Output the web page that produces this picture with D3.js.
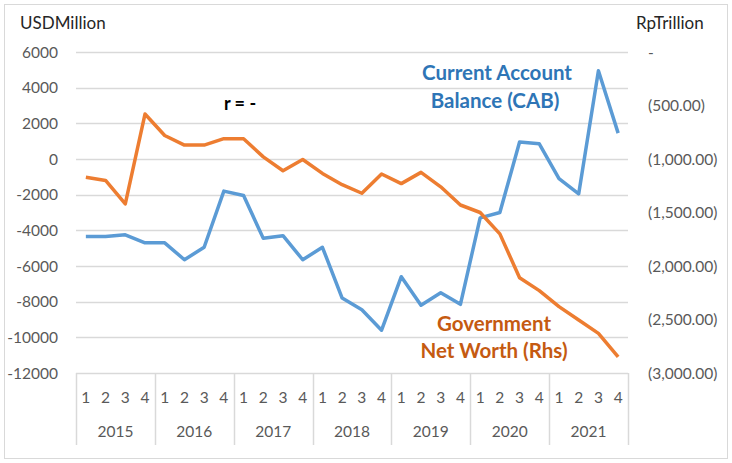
<!DOCTYPE html>
<html>
<head>
<meta charset="utf-8">
<script src="https://cdn.jsdelivr.net/npm/d3@7"></script>
<style>
  body { margin: 0; background: #fff; }
  svg { font-family: Lato, "Open Sans", sans-serif; }
</style>
</head>
<body>
<div id="chart"></div>
<script>
// Data
var years = ["2015", "2016", "2017", "2018", "2019", "2020", "2021"];
var quarters = ["1", "2", "3", "4"];
var cab = [-4350, -4350, -4250, -4700, -4700, -5650, -4950, -1800, -2050, -4450, -4300, -5650,
           -4950, -7800, -8450, -9600, -6600, -8200, -7500, -8150, -3300, -3000, 950, 850,
           -1100, -1950, 4950, 1450];
var netWorth = [-1170, -1200, -1420, -580, -780, -870, -870, -810, -810, -980, -1110, -1005,
                -1135, -1240, -1320, -1140, -1230, -1125, -1260, -1430, -1500, -1700, -2110, -2230,
                -2380, -2505, -2630, -2850];
var leftTicks = [6000, 4000, 2000, 0, -2000, -4000, -6000, -8000, -10000, -12000];
var rightTicks = [0, -500, -1000, -1500, -2000, -2500, -3000];

var W = 732, H = 463;
var plotL = 76, plotR = 628, plotT = 52, plotB = 373;

var svg = d3.select("#chart").append("svg")
    .attr("width", W)
    .attr("height", H);

// outer border
svg.append("rect")
    .attr("x", 4.5).attr("y", 4.5)
    .attr("width", 723).attr("height", 454)
    .attr("fill", "#fff")
    .attr("stroke", "#d9d9d9");

var cats = [];
years.forEach(function(y) {
  quarters.forEach(function(q) { cats.push(y + "-" + q); });
});

var x = d3.scaleBand().domain(cats).range([plotL, plotR]);
var yL = d3.scaleLinear().domain([-12000, 6000]).range([plotB, plotT]);
var yR = d3.scaleLinear().domain([-3000, 0]).range([plotB, plotT]);

// gridlines
svg.append("g")
  .selectAll("line")
  .data(leftTicks)
  .enter()
    .append("line")
    .attr("x1", plotL).attr("x2", plotR)
    .attr("y1", function(d) { return Math.round(yL(d)) + 0.5; })
    .attr("y2", function(d) { return Math.round(yL(d)) + 0.5; })
    .attr("stroke", "#d9d9d9")
    .attr("stroke-width", 1.5);

// left axis labels
svg.append("g")
  .selectAll("text")
  .data(leftTicks)
  .enter()
    .append("text")
    .attr("x", 58)
    .attr("y", function(d) { return yL(d) + 5.5; })
    .attr("text-anchor", "end")
    .attr("font-size", 15.5)
    .attr("fill", "#595959")
    .text(function(d) { return d; });

// right axis labels
var fmt = d3.format(",.2f");
svg.append("g")
  .selectAll("text")
  .data(rightTicks)
  .enter()
    .append("text")
    .attr("x", 648)
    .attr("y", function(d) { return yR(d) + 5.5; })
    .attr("font-size", 15.5)
    .attr("fill", "#595959")
    .text(function(d) { return d === 0 ? " -" : "(" + fmt(-d) + ")"; });

// axis titles
svg.append("text").attr("x", 20).attr("y", 29)
    .attr("font-size", 17).attr("fill", "#262626")
    .text("USDMillion");
svg.append("text").attr("x", 636).attr("y", 29)
    .attr("font-size", 17).attr("fill", "#262626")
    .text("RpTrillion");

// category axis: year separators
var seps = years.map(function(y) { return x(y + "-1"); }).concat([plotR]);
svg.append("g")
  .selectAll("line")
  .data(seps)
  .enter()
    .append("line")
    .attr("x1", function(d) { return Math.round(d) + 0.5; })
    .attr("x2", function(d) { return Math.round(d) + 0.5; })
    .attr("y1", plotB).attr("y2", 445)
    .attr("stroke", "#d9d9d9")
    .attr("stroke-width", 1.5);

svg.append("g")
  .selectAll("text")
  .data(cats)
  .enter()
    .append("text")
    .attr("x", function(d) { return x(d) + x.bandwidth() / 2; })
    .attr("y", 403)
    .attr("text-anchor", "middle")
    .attr("font-size", 15.5)
    .attr("fill", "#595959")
    .text(function(d) { return d.split("-")[1]; });

svg.append("g")
  .selectAll("text")
  .data(years)
  .enter()
    .append("text")
    .attr("x", function(d) { return x(d + "-1") + x.bandwidth() * 2; })
    .attr("y", 437)
    .attr("text-anchor", "middle")
    .attr("font-size", 15.5)
    .attr("fill", "#595959")
    .text(function(d) { return d; });

// lines
var cx = function(d, i) { return x(cats[i]) + x.bandwidth() / 2; };

svg.append("path")
    .datum(cab)
    .attr("fill", "none")
    .attr("stroke", "#5b9bd5")
    .attr("stroke-width", 3.5)
    .attr("stroke-linejoin", "round")
    .attr("d", d3.line().x(cx).y(function(d) { return yL(d); }));

svg.append("path")
    .datum(netWorth)
    .attr("fill", "none")
    .attr("stroke", "#ed7d31")
    .attr("stroke-width", 3.5)
    .attr("stroke-linejoin", "round")
    .attr("d", d3.line().x(cx).y(function(d) { return yR(d); }));

// annotations
svg.append("text").attr("x", 240).attr("y", 110)
    .attr("text-anchor", "middle")
    .attr("font-size", 18).attr("font-weight", "bold").attr("fill", "#000")
    .text("r = -");

svg.append("text").attr("x", 497).attr("y", 80)
    .attr("text-anchor", "middle")
    .attr("font-size", 20.5).attr("font-weight", "bold").attr("fill", "#2e75b6")
    .text("Current Account");
svg.append("text").attr("x", 495).attr("y", 108)
    .attr("text-anchor", "middle")
    .attr("font-size", 20.5).attr("font-weight", "bold").attr("fill", "#2e75b6")
    .text("Balance (CAB)");

svg.append("text").attr("x", 494).attr("y", 331)
    .attr("text-anchor", "middle")
    .attr("font-size", 20.5).attr("font-weight", "bold").attr("fill", "#c55a11")
    .text("Government");
svg.append("text").attr("x", 494).attr("y", 358)
    .attr("text-anchor", "middle")
    .attr("font-size", 20.5).attr("font-weight", "bold").attr("fill", "#c55a11")
    .text("Net Worth (Rhs)");
</script>
</body>
</html>
